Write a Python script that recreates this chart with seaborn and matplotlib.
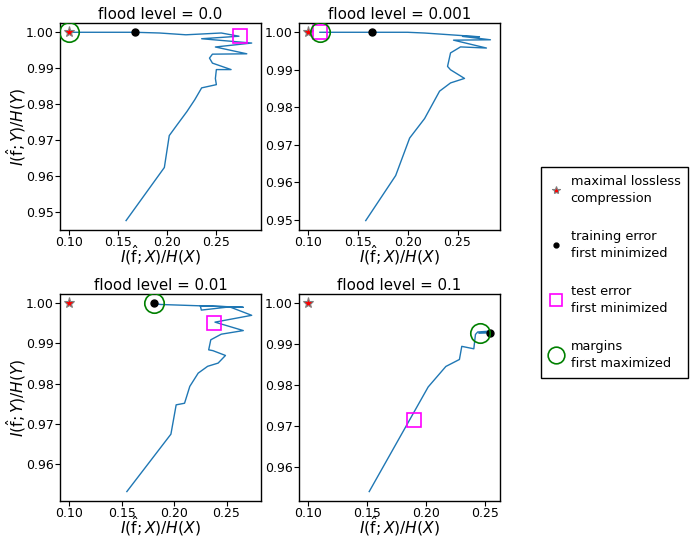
import matplotlib
matplotlib.use("Agg")
import matplotlib.pyplot as plt
import seaborn as sns
from matplotlib.lines import Line2D

plt.rcParams['font.family'] = ['DejaVu Sans']
plt.rcParams['axes.linewidth'] = 1.0

titles = ["flood level = 0.0", "flood level = 0.001", "flood level = 0.01", "flood level = 0.1"]

p1_x = [0.158, 0.197, 0.202, 0.210, 0.220, 0.228, 0.235, 0.250, 0.249, 0.250, 0.265, 0.246,
        0.243, 0.246, 0.281, 0.249, 0.286, 0.235, 0.273, 0.255, 0.219, 0.192, 0.167, 0.100]
p1_y = [0.9475, 0.9623, 0.9712, 0.9742, 0.9779, 0.9812, 0.9845, 0.9854, 0.9871, 0.9896, 0.9896, 0.9914,
        0.9928, 0.9939, 0.9940, 0.9959, 0.9970, 0.9982, 0.9989, 0.9998, 0.9993, 0.9998, 1.0, 1.0]

p2_x = [0.158, 0.188, 0.202, 0.217, 0.232, 0.243, 0.257, 0.243, 0.240, 0.243, 0.253, 0.279,
        0.246, 0.283, 0.255, 0.272, 0.217, 0.200, 0.164, 0.112]
p2_y = [0.9498, 0.9618, 0.9718, 0.9770, 0.9843, 0.9865, 0.9877, 0.9900, 0.9909, 0.9945, 0.9961, 0.9958,
        0.9979, 0.9980, 0.9989, 0.9988, 0.9998, 1.0, 1.0, 1.0]

p3_x = [0.155, 0.197, 0.202, 0.210, 0.215, 0.223, 0.232, 0.242, 0.249, 0.237, 0.233, 0.235,
        0.245, 0.266, 0.239, 0.274, 0.253, 0.226, 0.225, 0.266, 0.187, 0.181]
p3_y = [0.9531, 0.9674, 0.9747, 0.9751, 0.9793, 0.9826, 0.9843, 0.9851, 0.9870, 0.9882, 0.9884, 0.9909,
        0.9923, 0.9932, 0.9953, 0.9970, 0.9991, 0.9983, 0.9994, 0.9990, 0.9997, 1.0]

p4_x = [0.152, 0.202, 0.217, 0.2285, 0.2305, 0.2407, 0.2421, 0.2440, 0.2540, 0.2450, 0.2548]
p4_y = [0.9541, 0.9796, 0.9846, 0.9863, 0.9895, 0.9889, 0.9924, 0.9930, 0.9932, 0.9927, 0.9928]

curves_x = [p1_x, p2_x, p3_x, p4_x]
curves_y = [p1_y, p2_y, p3_y, p4_y]

# markers: (x, y) for each panel
star_pts = [(0.100, 1.0), (0.100, 1.0), (0.100, 1.0), (0.100, 1.0)]
train_pts = [(0.167, 1.0), (0.164, 1.0), (0.181, 1.0), (0.2548, 0.9928)]
test_pts = [(0.2740, 0.9989), (0.112, 1.0), (0.2383, 0.9952), (0.1904, 0.9716)]
margin_pts = [(0.100, 1.0), (0.112, 1.0), (0.181, 1.0), (0.2463, 0.9928)]

legend_labels = ["maximal lossless\ncompression", "training error\nfirst minimized",
                 "test error\nfirst minimized", "margins\nfirst maximized"]

fig = plt.figure(figsize=(6.9, 5.38), dpi=100)
positions = [
    [0.087, 0.5725, 0.291, 0.385],
    [0.433, 0.5725, 0.291, 0.385],
    [0.087, 0.0688, 0.291, 0.385],
    [0.433, 0.0688, 0.291, 0.385],
]

star_kw = dict(marker='*', ms=8, mfc='red', mec='grey', mew=0.8, ls='none')
dot_kw = dict(marker='o', ms=5, mfc='black', mec='black', ls='none')
sq_kw = dict(marker='s', ms=10, mfc='none', mec='magenta', mew=1.2, ls='none')
circ_kw = dict(marker='o', ms=14, mfc='none', mec='green', mew=1.2, ls='none')

for i in range(4):
    ax = fig.add_axes(positions[i])
    sns.lineplot(x=curves_x[i], y=curves_y[i], sort=False, estimator=None, ax=ax,
                 color='tab:blue', lw=1.0)
    ax.plot(*star_pts[i], zorder=5, **star_kw)
    ax.plot(*train_pts[i], zorder=5, **dot_kw)
    ax.plot(*test_pts[i], zorder=5, **sq_kw)
    ax.plot(*margin_pts[i], zorder=5, **circ_kw)
    ax.set_title(titles[i], fontsize=10.8, pad=3)
    ax.set_xlabel(r"$I(\hat{\mathrm{f}};X)/H(X)$", fontsize=11.2, va='baseline')
    ax.xaxis.set_label_coords(0.5, -0.158)
    if i % 2 == 0:
        ax.set_ylabel(r"$I(\hat{\mathrm{f}};Y)/H(Y)$", fontsize=11.2)
        ax.yaxis.set_label_coords(-0.16, 0.5)
    ax.tick_params(labelsize=9, length=3.5, pad=1)
    ax.set_xticks([0.10, 0.15, 0.20, 0.25])
    ax.xaxis.set_major_formatter(matplotlib.ticker.FormatStrFormatter('%.2f'))
    ax.yaxis.set_major_formatter(matplotlib.ticker.FormatStrFormatter('%.2f'))

handles = [
    Line2D([], [], marker='*', ms=6, mfc='red', mec='grey', mew=0.8, ls='none'),
    Line2D([], [], marker='o', ms=3.5, mfc='black', mec='black', ls='none'),
    Line2D([], [], marker='s', ms=9, mfc='none', mec='magenta', mew=1.2, ls='none'),
    Line2D([], [], marker='o', ms=12, mfc='none', mec='green', mew=1.2, ls='none'),
]
leg = fig.legend(handles, legend_labels, loc='upper left', bbox_to_anchor=(0.784, 0.69),
                 borderaxespad=0, fontsize=9.3, labelspacing=1.9, handletextpad=0.5,
                 handlelength=1.2, borderpad=0.6, fancybox=False, edgecolor='black',
                 framealpha=1)
for t in leg.get_texts():
    t.set_linespacing(1.45)
leg.get_frame().set_linewidth(1.0)

fig.savefig("out.png", dpi=100)
